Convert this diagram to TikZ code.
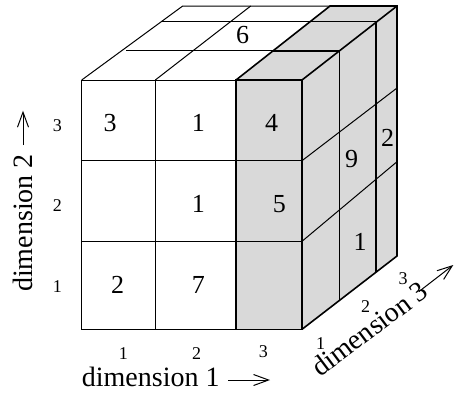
\documentclass[tikz,border=0pt]{standalone}
\usepackage{fontspec}
\setmainfont{Liberation Serif}
\usetikzlibrary{arrows.meta}
\definecolor{slab}{gray}{0.85}
\tikzset{
  thinline/.style={line width=1pt},
  thickline/.style={line width=1.6pt, line join=miter},
  cellnum/.style={font=\fontsize{26}{30}\selectfont, inner sep=0pt},
  ticknum/.style={font=\fontsize{18}{21}\selectfont, inner sep=0pt},
  axislabel/.style={font=\fontsize{28}{32}\selectfont, inner sep=0pt},
  axisarrow/.style={line width=1pt, -{Straight Barb[length=15pt,width=11pt]}}
}
\begin{document}
\begin{tikzpicture}[x=1pt,y=-1pt]
\useasboundingbox (0,0) rectangle (454,392);
% gray slab
\fill[slab] (236,80) -- (330,6) -- (397,6) -- (397,256) -- (302,329.3) -- (236,329.3) -- cycle;
% front grid
\draw[thinline] (81.7,80) rectangle (302,329.3);
\draw[thinline] (155.3,80) -- (155.3,329.3);
\draw[thinline] (81.7,160.7) -- (302,160.7);
\draw[thinline] (81.7,241.3) -- (302,241.3);
% top face
\draw[thinline] (81.7,80) -- (182.7,6) -- (397,6);
\draw[thinline] (155.3,80) -- (250.7,6);
\draw[thinline] (126,50.7) -- (339.3,50.7);
\draw[thinline] (161.7,21.3) -- (375.7,21.3);
% right face rows
\draw[thinline] (302,160.7) -- (397,88);
\draw[thinline] (302,241.3) -- (397,161.7);
% gray boxes outlines
\draw[thickline] (236,80) rectangle (302,329.3);
\draw[thickline] (236,80) -- (330,6) -- (397,6) -- (397,256) -- (302,329.3);
\draw[thickline] (302,80) -- (397,6);
\draw[thickline] (273.2,50.7) -- (339.3,50.7) -- (339.3,300.5);
\draw[thickline] (310.6,21.3) -- (375.7,21.3) -- (375.7,272.4);
% cell numbers
\node[cellnum] (c3) at (110,123.3) {3};
\node[cellnum] (c1a) at (198.3,123.3) {1};
\node[cellnum] (c4) at (271.7,123.3) {4};
\node[cellnum] (c1b) at (198.3,204.3) {1};
\node[cellnum] (c5) at (279.3,204.3) {5};
\node[cellnum] (c2) at (117.7,285) {2};
\node[cellnum] (c7) at (198.3,285) {7};
\node[cellnum] (c6) at (242.7,35) {6};
\node[cellnum] (c9) at (351.7,159.3) {9};
\node[cellnum] (c2b) at (387.7,138.3) {2};
\node[cellnum] (c1c) at (360,241.7) {1};
% ticks dimension 2
\node[ticknum] (t23) at (57.3,126) {3};
\node[ticknum] (t22) at (57.3,206) {2};
\node[ticknum] (t21) at (57.3,286.7) {1};
% ticks dimension 1
\node[ticknum] (t11) at (123.3,353.3) {1};
\node[ticknum] (t12) at (196.7,353.3) {2};
\node[ticknum] (t13) at (263.3,352) {3};
% ticks dimension 3
\node[ticknum] (t31) at (320.5,344) {1};
\node[ticknum] (t32) at (365.7,307) {2};
\node[ticknum] (t33) at (403,279) {3};
% axis labels
\node[axislabel, anchor=base west] (d1) at (81.7,386.7) {dimension 1};
\node[axislabel, anchor=base west, rotate=90] (d2) at (32,292) {dimension 2};
\node[axislabel, anchor=base west, rotate=37] (d3) at (320,378) {dimension 3};
% axis arrows
\coordinate (a1s) at (228,380);
\coordinate (a1e) at (270,380);
\coordinate (a2s) at (23,145);
\coordinate (a2e) at (23,110.7);
\coordinate (a3s) at (419,291.5);
\coordinate (a3e) at (453.3,265);
\draw[axisarrow] (a1s) -- (a1e);
\draw[axisarrow] (a2s) -- (a2e);
\draw[axisarrow] (a3s) -- (a3e);
\end{tikzpicture}
\end{document}
